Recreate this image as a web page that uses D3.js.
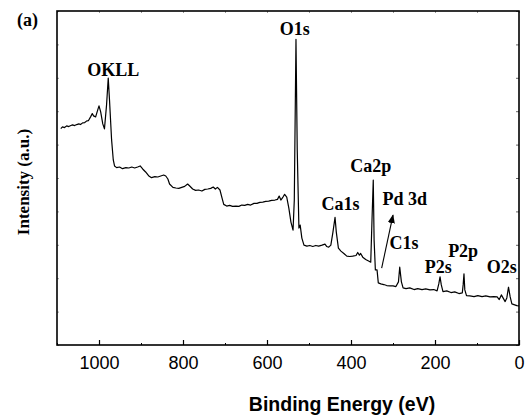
<!DOCTYPE html>
<html>
<head>
<meta charset="utf-8">
<script src="https://d3js.org/d3.v7.min.js"></script>
<style>
  body { margin: 0; background: #fff; }
  svg { display: block; }
</style>
</head>
<body>
<svg id="xps" width="526" height="416"></svg>
<script>
// survey spectrum (binding energy in eV, intensity in a.u.)
var energy = [1091, 1087, 1082, 1077, 1072, 1067, 1063, 1058, 1053, 1048, 1044, 1039, 1034, 1029, 1025,
  1020, 1016, 1013, 1008, 1003, 1000, 996, 991, 987, 982, 978, 975, 970, 966, 963, 958, 951, 944,
  936, 929, 922, 915, 908, 902, 896, 889, 882, 875, 867, 860, 853, 846, 841, 836, 832, 824, 817,
  810, 803, 796, 789, 784, 777, 770, 763, 755, 748, 741, 734, 728, 723, 718, 712, 707, 703, 696,
  689, 682, 674, 667, 660, 653, 646, 639, 631, 624, 617, 610, 603, 596, 589, 581, 575, 571, 567,
  562, 558, 553, 548, 543, 538, 535, 531, 528, 524, 521, 517, 512, 505, 498, 491, 484, 477, 469,
  462, 458, 453, 448, 443, 438, 435, 430, 424, 417, 410, 403, 396, 388, 384, 380, 377, 372, 365,
  357, 353, 350, 347, 345, 342, 338, 335, 329, 322, 315, 307, 300, 293, 287, 284, 280, 276, 269,
  260, 250, 241, 231, 222, 212, 203, 195, 191, 188, 185, 181, 172, 162, 153, 143, 135, 133, 131,
  129, 125, 117, 107, 98, 88, 79, 69, 60, 52, 47, 42, 38, 33, 29, 25, 21, 17, 12, 5, 0];
var intensity = [6.48, 6.53, 6.51, 6.56, 6.54, 6.57, 6.59, 6.57, 6.60, 6.62, 6.60, 6.65, 6.66, 6.71, 6.72,
  6.83, 6.93, 6.86, 6.83, 7.04, 7.16, 6.98, 6.62, 6.47, 7.19, 7.99, 7.34, 6.14, 5.54, 5.36, 5.31, 5.33, 5.28,
  5.31, 5.30, 5.33, 5.30, 5.33, 5.36, 5.27, 5.18, 5.07, 5.01, 5.04, 5.03, 5.06, 5.09, 5.06, 4.97, 4.82, 4.72, 4.70,
  4.69, 4.72, 4.75, 4.82, 4.76, 4.67, 4.63, 4.64, 4.61, 4.66, 4.67, 4.69, 4.73, 4.67, 4.72, 4.64, 4.40, 4.21, 4.16,
  4.18, 4.15, 4.16, 4.15, 4.19, 4.18, 4.21, 4.19, 4.24, 4.24, 4.27, 4.28, 4.30, 4.31, 4.33, 4.34, 4.36, 4.46, 4.34,
  4.43, 4.51, 4.43, 4.10, 3.68, 3.44, 4.34, 9.15, 5.84, 3.50, 3.59, 3.20, 2.99, 2.96, 2.98, 2.95, 2.98, 2.96, 2.99,
  3.02, 2.95, 2.93, 2.99, 3.38, 3.82, 3.38, 2.90, 2.81, 2.74, 2.66, 2.65, 2.66, 2.68, 2.77, 2.69, 2.74, 2.63, 2.56,
  2.51, 2.48, 3.74, 4.94, 3.14, 2.25, 2.25, 1.86, 1.83, 1.81, 1.78, 1.77, 1.77, 1.75, 1.89, 2.33, 1.89, 1.71, 1.69,
  1.71, 1.66, 1.69, 1.66, 1.68, 1.65, 1.66, 1.62, 1.83, 2.04, 1.80, 1.60, 1.62, 1.57, 1.59, 1.54, 1.56, 1.80, 2.13,
  1.65, 1.48, 1.47, 1.45, 1.48, 1.45, 1.47, 1.44, 1.45, 1.44, 1.36, 1.50, 1.41, 1.30, 1.41, 1.73, 1.44, 1.23, 1.21, 1.18, 1.17];

// peak labels: text, energy and intensity of the text anchor
var peakLabels = ["OKLL", "O1s", "Ca2p", "Ca1s", "Pd 3d", "C1s", "P2p", "P2s", "O2s"];
var labelEnergy = [966, 534, 353, 425, 272, 274, 133, 192, 41];
var labelIntensity = [8.05, 9.28, 5.19, 4.04, 4.19, 2.87, 2.64, 2.15, 2.15];

// Pd 3d arrow [energy, intensity] from tail to head
var arrowFrom = [327, 2.30];
var arrowTo = [300, 3.89];

var xTicks = [0, 200, 400, 600, 800, 1000];
var xMinorTicks = [0, 100, 200, 300, 400, 500, 600, 700, 800, 900, 1000, 1100];
var yTicks = [0, 1, 2, 3, 4, 5, 6, 7, 8, 9, 10];

var svg = d3.select('#xps');
var margin = {left: 57, right: 7, top: 11, bottom: 71};
var width = 526 - margin.left - margin.right;
var height = 416 - margin.top - margin.bottom;

var x = d3.scaleLinear().domain([1100, 0]).range([0, width]);
var y = d3.scaleLinear().domain([0, 10]).range([height, 0]);

var g = svg.append("g")
    .attr("transform", "translate(" + margin.left + "," + margin.top + ")");

// minor ticks on all sides, inward
g.append("g")
    .attr("transform", "translate(0," + height + ")")
    .call(d3.axisBottom(x).tickValues(xMinorTicks).tickSize(-2).tickFormat(""))
    .call(function(a) { a.select(".domain").remove(); });
g.append("g")
    .call(d3.axisTop(x).tickValues(xMinorTicks).tickSize(-2).tickFormat(""))
    .call(function(a) { a.select(".domain").remove(); })
    .selectAll("line").attr("stroke", "#999");
g.append("g")
    .call(d3.axisLeft(y).tickValues(yTicks).tickSize(-2).tickFormat(""))
    .call(function(a) { a.select(".domain").remove(); })
    .selectAll("line").attr("stroke", "#999");
g.append("g")
    .attr("transform", "translate(" + width + ",0)")
    .call(d3.axisRight(y).tickValues(yTicks).tickSize(-3).tickFormat(""))
    .call(function(a) { a.select(".domain").remove(); })
    .selectAll("line").attr("stroke", "#666");

// major bottom ticks with labels
var xAxis = g.append("g")
    .attr("transform", "translate(0," + height + ")")
    .call(d3.axisBottom(x).tickValues(xTicks).tickSize(-5).tickPadding(11).tickFormat(d3.format("d")));
xAxis.select(".domain").remove();
xAxis.selectAll("line").attr("stroke-width", 1.2);
xAxis.selectAll("text")
    .attr("font-family", "Liberation Sans, Arial, sans-serif")
    .attr("font-size", 18)
    .attr("fill", "#000");

// frame
g.append("rect")
    .attr("width", width)
    .attr("height", height)
    .attr("fill", "none")
    .attr("stroke", "#000")
    .attr("stroke-width", 1.6);

var line = d3.line()
    .x(function(d) { return x(d[0]); })
    .y(function(d) { return y(d[1]); });

g.append("path")
    .datum(d3.zip(energy, intensity))
    .attr("d", line)
    .attr("fill", "none")
    .attr("stroke", "#000")
    .attr("stroke-width", 1.2)
    .attr("stroke-linejoin", "round");

g.selectAll(".peak")
    .data(peakLabels)
    .enter().append("text")
    .attr("class", "peak")
    .attr("x", function(d, i) { return x(labelEnergy[i]); })
    .attr("y", function(d, i) { return y(labelIntensity[i]); })
    .attr("text-anchor", "middle")
    .attr("font-family", "Liberation Serif, Times New Roman, serif")
    .attr("font-weight", "bold")
    .attr("font-size", 18)
    .text(function(d) { return d; });

// arrow for Pd 3d
svg.append("defs").append("marker")
    .attr("id", "head")
    .attr("viewBox", "0 0 10 10")
    .attr("refX", 9).attr("refY", 5)
    .attr("markerWidth", 9).attr("markerHeight", 9)
    .attr("markerUnits", "userSpaceOnUse")
    .attr("orient", "auto")
  .append("path")
    .attr("d", "M0,1L10,5L0,9Z")
    .attr("fill", "#000");

g.append("line")
    .attr("x1", x(arrowFrom[0])).attr("y1", y(arrowFrom[1]))
    .attr("x2", x(arrowTo[0])).attr("y2", y(arrowTo[1]))
    .attr("stroke", "#000")
    .attr("stroke-width", 1.1)
    .attr("marker-end", "url(#head)");

// axis titles
svg.append("text")
    .attr("x", 342)
    .attr("y", 411)
    .attr("text-anchor", "middle")
    .attr("font-family", "Liberation Sans, Arial, sans-serif")
    .attr("font-weight", "bold")
    .attr("font-size", 19.5)
    .text("Binding Energy (eV)");

svg.append("text")
    .attr("transform", "translate(29,182) rotate(-90)")
    .attr("text-anchor", "middle")
    .attr("font-family", "Liberation Serif, Times New Roman, serif")
    .attr("font-weight", "bold")
    .attr("font-size", 17)
    .text("Intensity (a.u.)");

svg.append("text")
    .attr("x", 17)
    .attr("y", 26)
    .attr("font-family", "Liberation Serif, Times New Roman, serif")
    .attr("font-weight", "bold")
    .attr("font-size", 18)
    .text("(a)");
</script>
</body>
</html>
